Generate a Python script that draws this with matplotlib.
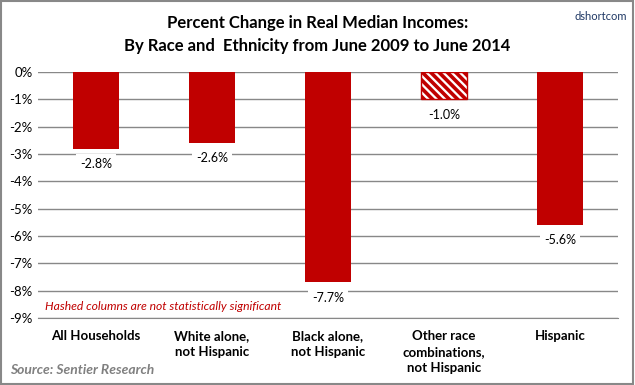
import matplotlib
matplotlib.use("Agg")
import matplotlib.pyplot as plt
from matplotlib.patches import Rectangle

plt.rcParams['font.family'] = ['Lato', 'DejaVu Sans']
plt.rcParams['hatch.linewidth'] = 2.6

categories = ["All Households", "White alone,\nnot Hispanic", "Black alone,\nnot Hispanic",
              "Other race\ncombinations,\nnot Hispanic", "Hispanic"]
values = [-2.8, -2.6, -7.7, -1.0, -5.6]
hashed = [False, False, False, True, False]
labels = ["-2.8%", "-2.6%", "-7.7%", "-1.0%", "-5.6%"]
yticks = [0, -1, -2, -3, -4, -5, -6, -7, -8, -9]

fig = plt.figure(figsize=(6.35, 3.85), dpi=100)
ax = fig.add_axes([38/635, 1-318/385, (618-38)/635, (318-72)/385])

red = '#C00000'
x = list(range(len(categories)))
for i, (v, h) in enumerate(zip(values, hashed)):
    if h:
        ax.bar(i, v, width=0.4, facecolor='white', edgecolor=red, hatch='\\\\\\\\', linewidth=1.0, zorder=3)
    else:
        ax.bar(i, v, width=0.4, color=red, edgecolor=red, linewidth=0, zorder=3)
    ax.text(i, v - 0.56, labels[i], ha='center', va='center', fontsize=9, color='black',
            bbox=dict(facecolor='white', edgecolor='none', pad=3), zorder=4)

ax.set_xlim(-0.5, 4.5)
ax.set_ylim(-9, 0)
ax.set_yticks(yticks)
ax.set_yticklabels([f"{t}%" for t in yticks], fontsize=9.5)
ax.yaxis.grid(True, color='#888888', linewidth=1, zorder=0)
ax.set_axisbelow(True)
ax.set_xticks(x)
ax.set_xticklabels(categories, fontsize=9.5, fontweight='bold', linespacing=1.4, va='top')
ax.tick_params(axis='x', length=0, pad=9)
ax.tick_params(axis='y', length=0, pad=4)
for s in ['top', 'right', 'left']:
    ax.spines[s].set_visible(False)
ax.spines['bottom'].set_color('#888888')

ax.text(0.012, 0.045, "Hashed columns are not statistically significant", transform=ax.transAxes,
        fontsize=8.7, style='italic', color=red, ha='left', va='center')

fig.text(0.5, 1-23/385, "Percent Change in Real Median Incomes:", ha='center', va='center',
         fontsize=12, fontweight='bold')
fig.text(0.5, 1-46/385, "By Race and  Ethnicity from June 2009 to June 2014", ha='center', va='center',
         fontsize=12, fontweight='bold')
fig.text(1-8/635, 1-16/385, "dshortcom", ha='right', va='center', fontsize=8, color='#1F3864')
fig.text(10/635, 1-370/385, "Source: Sentier Research", ha='left', va='center', fontsize=10,
         style='italic', fontweight='bold', color='#808080')

fig.patches.append(Rectangle((0.002, 0.003), 0.995, 0.994, transform=fig.transFigure,
                             fill=False, edgecolor='#888888', linewidth=1.5))

fig.savefig("out.png", dpi=100)
